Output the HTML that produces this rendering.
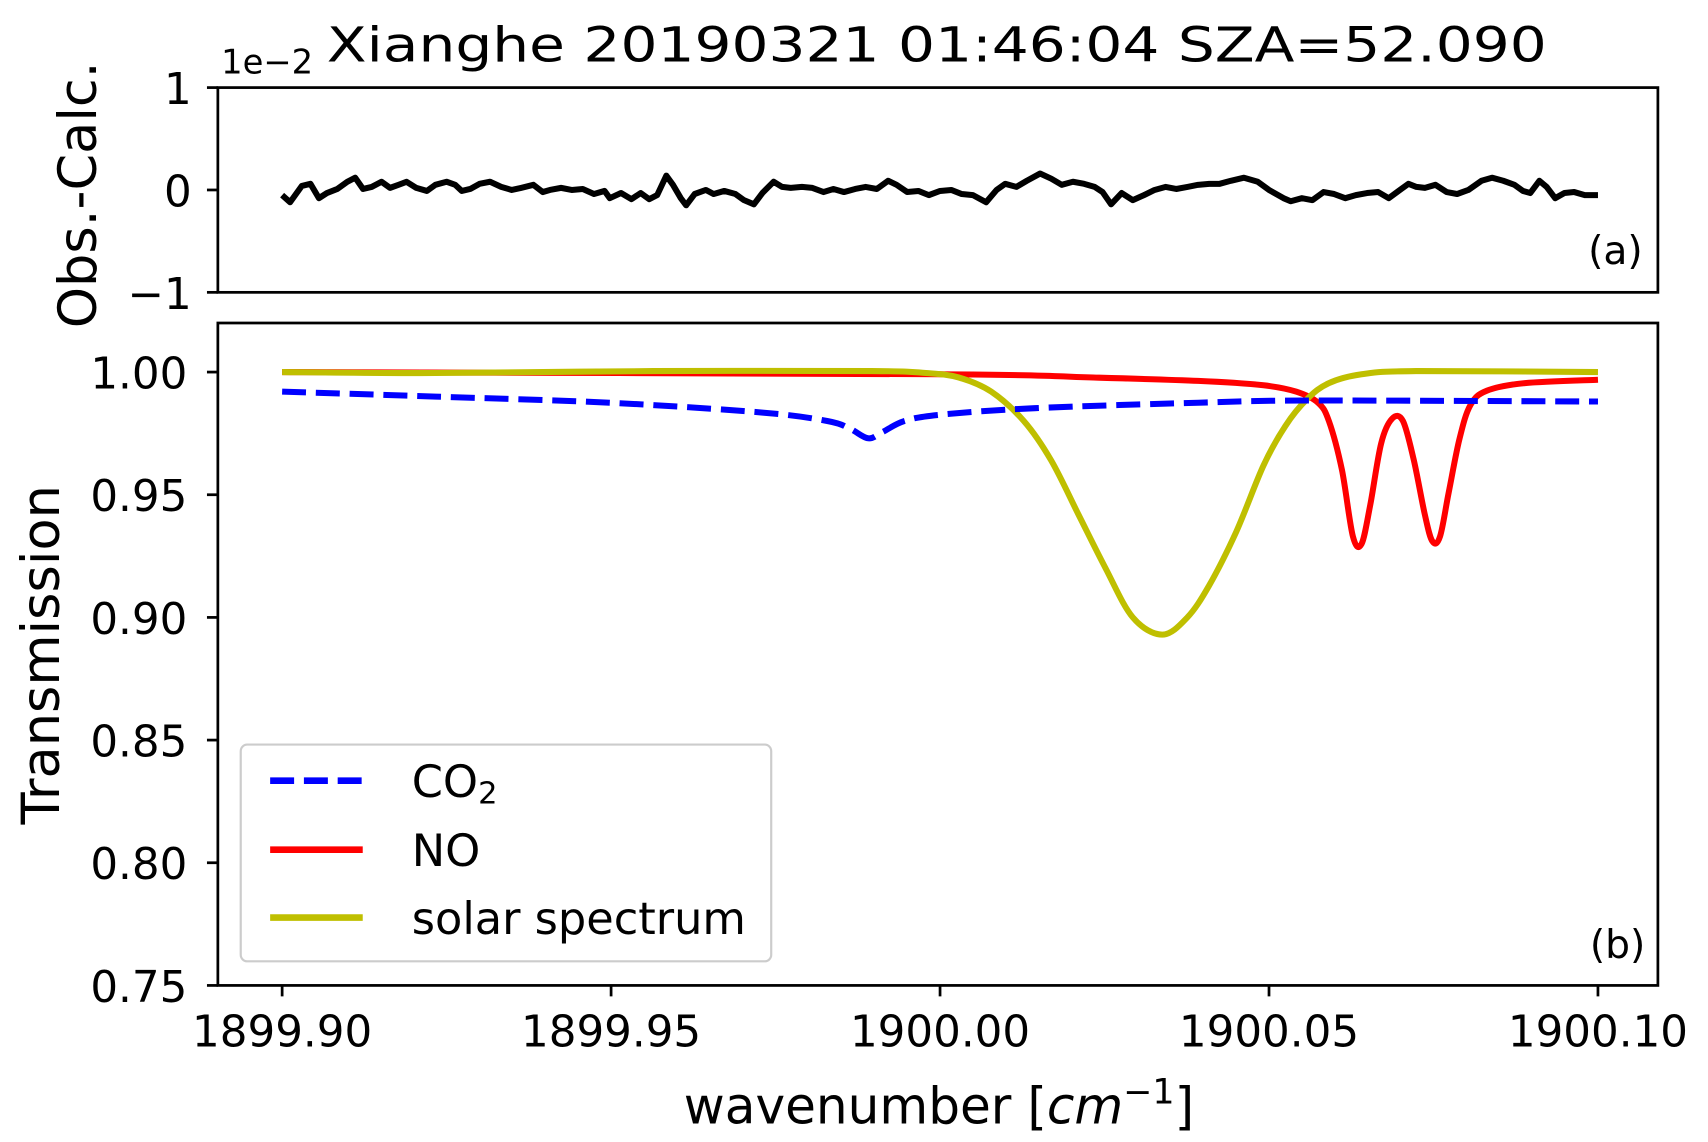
<!DOCTYPE html>
<html><head><meta charset="utf-8"><style>html,body{margin:0;padding:0;background:#fff}svg{display:block}text{font-family:"DejaVu Sans","Liberation Sans",sans-serif;fill:#000}</style></head>
<body>
<svg id="chart" width="1708" height="1142" viewBox="0 0 1568 1043" preserveAspectRatio="none" xmlns="http://www.w3.org/2000/svg">
<rect width="1568" height="1043" fill="#fff"/>
<text x="860" y="56" font-size="44" text-anchor="middle" textLength="1120" lengthAdjust="spacingAndGlyphs">Xianghe 20190321 01:46:04 SZA=52.090</text>
<text x="203" y="67" font-size="31">1e−2</text>
<g id="topPanel"></g>
<g id="botPanel"></g>
<text transform="translate(88,178) rotate(-90)" font-size="48" text-anchor="middle">Obs.-Calc.</text>
<text transform="translate(54,598) rotate(-90)" font-size="48" text-anchor="middle">Transmission</text>
<text x="862" y="1026" font-size="46" text-anchor="middle">wavenumber [<tspan font-style="italic">cm</tspan><tspan font-size="32" dy="-18">−1</tspan><tspan dy="18">]</tspan></text>
<text x="1483" y="241" font-size="36" text-anchor="middle">(a)</text>
<text x="1485" y="875" font-size="36" text-anchor="middle">(b)</text>
<g>
<rect x="221" y="680" width="487" height="198" rx="6" fill="#fff" fill-opacity="0.8" stroke="#ccc" stroke-width="2"/>
<line x1="248" y1="713" x2="333" y2="713" stroke="#0000ff" stroke-width="6" stroke-dasharray="22,9"/>
<text x="378" y="728" font-size="41">CO<tspan font-size="28" dy="6">2</tspan></text>
<line x1="248" y1="776" x2="333" y2="776" stroke="#ff0000" stroke-width="6"/>
<text x="378" y="791" font-size="41">NO</text>
<line x1="248" y1="838" x2="333" y2="838" stroke="#bfbf00" stroke-width="6"/>
<text x="378" y="853" font-size="41">solar spectrum</text>
</g>
</svg>
<script>
const resWn=[1899.9000,1899.9012,1899.9030,1899.9043,1899.9056,1899.9068,1899.9084,1899.9099,1899.9111,1899.9123,1899.9136,1899.9151,1899.9164,1899.9177,1899.9189,1899.9204,1899.9220,1899.9233,1899.9250,1899.9263,1899.9273,1899.9286,1899.9300,1899.9316,1899.9333,1899.9349,1899.9363,1899.9382,1899.9396,1899.9407,1899.9424,1899.9440,1899.9457,1899.9474,1899.9490,1899.9498,1899.9515,1899.9531,1899.9545,1899.9558,1899.9570,1899.9584,1899.9594,1899.9606,1899.9614,1899.9627,1899.9644,1899.9656,1899.9672,1899.9689,1899.9702,1899.9717,1899.9730,1899.9747,1899.9760,1899.9773,1899.9790,1899.9806,1899.9823,1899.9838,1899.9854,1899.9871,1899.9887,1899.9904,1899.9921,1899.9934,1899.9950,1899.9967,1899.9983,1900.0000,1900.0017,1900.0033,1900.0050,1900.0070,1900.0086,1900.0099,1900.0116,1900.0132,1900.0152,1900.0169,1900.0185,1900.0202,1900.0219,1900.0235,1900.0247,1900.0260,1900.0276,1900.0293,1900.0310,1900.0326,1900.0343,1900.0359,1900.0376,1900.0392,1900.0409,1900.0425,1900.0442,1900.0462,1900.0483,1900.0500,1900.0522,1900.0533,1900.0550,1900.0566,1900.0583,1900.0599,1900.0616,1900.0632,1900.0649,1900.0666,1900.0682,1900.0699,1900.0712,1900.0724,1900.0737,1900.0753,1900.0770,1900.0786,1900.0803,1900.0823,1900.0839,1900.0856,1900.0873,1900.0886,1900.0897,1900.0911,1900.0922,1900.0935,1900.0949,1900.0964,1900.0980,1900.1000];
const resVal=[-0.05,-0.12,0.04,0.06,-0.08,-0.03,0.01,0.08,0.12,0.01,0.03,0.08,0.02,0.05,0.08,0.02,-0.01,0.05,0.08,0.05,-0.01,0.01,0.06,0.08,0.03,0.00,0.02,0.05,-0.02,0.00,0.02,0.00,0.01,-0.04,-0.01,-0.08,-0.03,-0.09,-0.03,-0.09,-0.05,0.14,0.05,-0.08,-0.15,-0.04,0.00,-0.04,-0.01,-0.04,-0.10,-0.14,-0.03,0.08,0.03,0.02,0.03,0.02,-0.02,0.01,-0.02,0.01,0.03,0.01,0.09,0.05,-0.02,-0.01,-0.05,-0.01,0.00,-0.04,-0.05,-0.12,0.00,0.06,0.03,0.09,0.16,0.11,0.05,0.08,0.06,0.03,-0.02,-0.14,-0.03,-0.10,-0.05,0.00,0.03,0.01,0.03,0.05,0.06,0.06,0.09,0.12,0.08,0.00,-0.08,-0.11,-0.08,-0.10,-0.02,-0.04,-0.08,-0.05,-0.03,-0.02,-0.08,0.00,0.06,0.03,0.02,0.05,-0.02,-0.04,0.00,0.09,0.12,0.09,0.05,-0.01,-0.03,0.09,0.03,-0.08,-0.03,-0.02,-0.05,-0.05];
const co2Wn=[1899.9000,1899.92334,1899.94983,1899.97301,1899.98295,1899.98626,1899.98907,1899.99123,1899.99454,1900.0000,1900.0144,1900.03924,1900.05579,1900.1000];
const co2Val=[0.992,0.990,0.9875,0.9835,0.980,0.977,0.973,0.9755,0.980,0.9826,0.9853,0.9875,0.9884,0.988];
const noWn=[1899.9000,1900.0000,1900.02268,1900.03924,1900.04917,1900.05414,1900.05745,1900.05911,1900.06109,1900.06275,1900.06407,1900.0654,1900.06705,1900.06871,1900.07036,1900.07202,1900.07368,1900.07483,1900.07599,1900.07732,1900.07897,1900.08063,1900.08311,1900.08891,1900.1000];
const noVal=[1.000,0.9991,0.9978,0.9964,0.9946,0.992,0.9875,0.980,0.960,0.933,0.930,0.946,0.971,0.981,0.980,0.964,0.942,0.931,0.933,0.951,0.973,0.9866,0.9924,0.9955,0.9969];
const solWn=[1899.9000,1899.92334,1899.95646,1899.98957,1899.99785,1900.00281,1900.00778,1900.01275,1900.01689,1900.02103,1900.02517,1900.0293,1900.03377,1900.03758,1900.04089,1900.04503,1900.04917,1900.05248,1900.05579,1900.05911,1900.06407,1900.07235,1900.1000];
const solVal=[1.000,0.9996,1.0004,1.0004,0.9996,0.9978,0.992,0.980,0.964,0.942,0.920,0.900,0.893,0.900,0.913,0.935,0.962,0.978,0.989,0.9955,0.9991,1.0004,1.000];
const xTicks=[1899.90,1899.95,1900.00,1900.05,1900.10];
const xTickLabels=["1899.90","1899.95","1900.00","1900.05","1900.10"];
const resTicks=[1,0,-1];
const resTickLabels=["1","0","−1"];
const tTicks=[1.00,0.95,0.90,0.85,0.80,0.75];
const tTickLabels=["1.00","0.95","0.90","0.85","0.80","0.75"];

const NS="http://www.w3.org/2000/svg";
const L=200,R=1522;
const xmin=1899.89023,xmax=1900.10911;
const X=v=>L+(v-xmin)/(xmax-xmin)*(R-L);
const TT=80,TB=267,BT=295,BB=900;
const Yr=v=>TB-(v+1)/2*(TB-TT);
const Yt=v=>BB-(v-0.75)/(1.02-0.75)*(BB-BT);
function mk(tag,attrs,parent){const e=document.createElementNS(NS,tag);for(const k in attrs)e.setAttribute(k,attrs[k]);parent.appendChild(e);return e;}
const topG=document.getElementById('topPanel'),botG=document.getElementById('botPanel');

function pathD(xs,ys,fx,fy){return xs.map((x,i)=>(i?'L':'M')+fx(x).toFixed(1)+' '+fy(ys[i]).toFixed(1)).join(' ');}
function smoothD(xs,ys,fx,fy){
  const P=xs.map((x,i)=>[fx(x),fy(ys[i])]);
  let d='M'+P[0][0].toFixed(1)+' '+P[0][1].toFixed(1);
  for(let i=0;i<P.length-1;i++){
    const p0=P[Math.max(0,i-1)],p1=P[i],p2=P[i+1],p3=P[Math.min(P.length-1,i+2)];
    const t=1/6;
    const c1=[p1[0]+(p2[0]-p0[0])*t,p1[1]+(p2[1]-p0[1])*t];
    const c2=[p2[0]-(p3[0]-p1[0])*t,p2[1]-(p3[1]-p1[1])*t];
    d+=' C'+c1[0].toFixed(1)+' '+c1[1].toFixed(1)+' '+c2[0].toFixed(1)+' '+c2[1].toFixed(1)+' '+p2[0].toFixed(1)+' '+p2[1].toFixed(1);
  }
  return d;
}

let p=mk('path',{d:pathD(resWn,resVal,X,Yr),fill:'none',stroke:'#000','stroke-width':5.5,'stroke-linejoin':'round'},topG);


let f=mk('rect',{x:L,y:TT,width:R-L,height:TB-TT,fill:'none',stroke:'#000','stroke-width':2.5},topG);


resTicks.forEach((t,i)=>{
  const tk=mk('line',{x1:L-10,x2:L,y1:Yr(t),y2:Yr(t),stroke:'#000','stroke-width':2.5},topG);
  
  
  const tl=mk('text',{x:L-24,y:Yr(t)+15,'font-size':40,'text-anchor':'end'},topG);
  tl.textContent=resTickLabels[i];
  
  
});

const clip=mk('clipPath',{id:'cb'},botG);mk('rect',{x:L,y:BT,width:R-L,height:BB-BT},clip);
const g=mk('g',{'clip-path':'url(#cb)'},botG);
p=mk('path',{d:smoothD(noWn,noVal,X,Yt),fill:'none',stroke:'#ff0000','stroke-width':5.5,'stroke-linejoin':'round'},g);


p=mk('path',{d:smoothD(solWn,solVal,X,Yt),fill:'none',stroke:'#bfbf00','stroke-width':5.5,'stroke-linejoin':'round'},g);


p=mk('path',{d:smoothD(co2Wn,co2Val,X,Yt),fill:'none',stroke:'#0000ff','stroke-width':5.5,'stroke-dasharray':'22,9','stroke-linejoin':'round'},g);


f=mk('rect',{x:L,y:BT,width:R-L,height:BB-BT,fill:'none',stroke:'#000','stroke-width':2.5},botG);


tTicks.forEach((t,i)=>{
  const tk=mk('line',{x1:L-10,x2:L,y1:Yt(t),y2:Yt(t),stroke:'#000','stroke-width':2.5},botG);
  
  
  const tl=mk('text',{x:L-28,y:Yt(t)+15,'font-size':40,'text-anchor':'end'},botG);
  tl.textContent=tTickLabels[i];
  
  
});
xTicks.forEach((t,i)=>{
  const tk=mk('line',{x1:X(t),x2:X(t),y1:BB,y2:BB+10,stroke:'#000','stroke-width':2.5},botG);
  
  
  const tl=mk('text',{x:X(t),y:BB+56,'font-size':40,'text-anchor':'middle'},botG);
  tl.textContent=xTickLabels[i];
  
  
});
</script>
</body></html>
